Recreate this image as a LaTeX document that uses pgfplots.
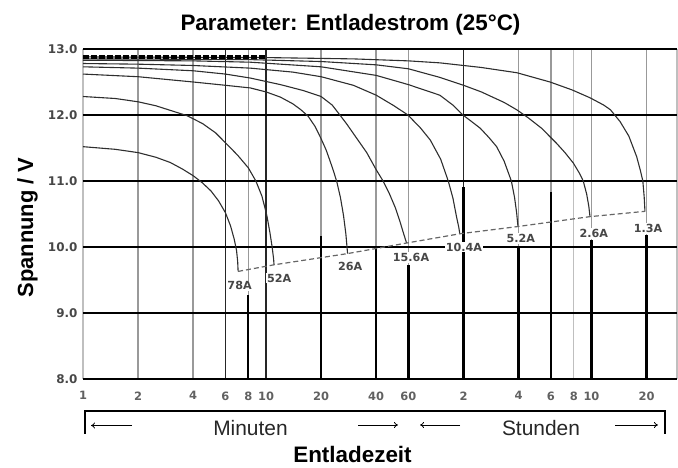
\documentclass[border=0pt]{standalone}
\usepackage{fontspec}
\setmainfont{Liberation Sans}
\newfontfamily\dvs{DejaVu Sans}
\usepackage{pgfplots}
\pgfplotsset{compat=1.18}
\usetikzlibrary{arrows.meta}

\begin{document}
\begin{tikzpicture}
\begin{axis}[name=ax, scale only axis, width=594bp, height=330bp,
  xmode=log, xmin=1, xmax=1760, ymin=8, ymax=13,
  axis line style={draw=none}, clip=false,
  xtick={1,2,4,6,8,10,20,40,60,120,240,360,480,600,1200},
  xticklabels={1,2,4,6,8,10,20,40,60,2,4,6,8,10,20},
  ytick={8,9,10,11,12,13},
  yticklabels={8.0,9.0,10.0,11.0,12.0,13.0},
  major tick length=0pt, minor tick length=0pt,
  xticklabel style={font=\dvs\bfseries\fontsize{11.5}{13}\selectfont, text=black!62, yshift=-9bp},
  yticklabel style={font=\dvs\bfseries\fontsize{12}{14}\selectfont, text=black!72, xshift=-2bp},
]
% grey vertical grid lines
\pgfplotsinvokeforeach{2,4,8,20,40,60,240,360,600,1200}{
  \addplot[gray!80, line width=1.5bp] coordinates {(#1,8) (#1,13)};
}
\pgfplotsinvokeforeach{1,480,1760}{
  \addplot[gray!50, line width=1.3bp] coordinates {(#1,8) (#1,13)};
}
\pgfplotsinvokeforeach{6,10,120}{
  \addplot[black!85, line width=1.1bp] coordinates {(#1,8) (#1,13)};
}
% thick black lower segments
\addplot[black, line width=2.4bp] coordinates {(8,8) (8,9.27)};
\addplot[black, line width=2.4bp] coordinates {(20,8) (20,10.16)};
\addplot[black, line width=2.4bp] coordinates {(40,8) (40,10.02)};
\addplot[black, line width=2.4bp] coordinates {(60,8) (60,9.73)};
\addplot[black, line width=2.4bp] coordinates {(120,8) (120,10.91)};
\addplot[black, line width=2.4bp] coordinates {(240,8) (240,10.0)};
\addplot[black, line width=2.4bp] coordinates {(360,8) (360,10.84)};
\addplot[black, line width=2.4bp] coordinates {(600,8) (600,10.1)};
\addplot[black, line width=2.4bp] coordinates {(1200,8) (1200,10.18)};
% horizontal grid lines
\pgfplotsinvokeforeach{8,9,10,11}{
  \addplot[black, line width=2.4bp] coordinates {(1,#1) (1760,#1)};
}
\addplot[black, line width=1.6bp] coordinates {(1,12) (1760,12)};
\addplot[black, line width=1.6bp] coordinates {(1,13) (1760,13)};

% discharge curves
\addplot[black!82, line width=1.1bp] coordinates {(1,11.52) (1.5,11.48) (2,11.43) (2.5,11.36) (3,11.28) (3.5,11.18) (4,11.08) (4.5,10.97) (5,10.85) (5.5,10.7) (6,10.52) (6.4,10.32) (6.7,10.12) (6.9,9.95) (7.0,9.78) (7.04,9.63)};
\addplot[black!82, line width=1.1bp] coordinates {(1,12.28) (1.5,12.25) (2,12.2) (2.5,12.14) (3,12.07) (3.7,11.99) (4.5,11.87) (5.3,11.73) (6.05,11.57) (7,11.39) (8,11.2) (8.8,11.0) (9.5,10.77) (10.1,10.48) (10.5,10.22) (10.8,10.0) (11.0,9.82) (11.06,9.73)};
\addplot[black!82, line width=1.1bp] coordinates {(1,12.62) (2,12.58) (4,12.5) (6,12.45) (8.2,12.41) (10,12.35) (12,12.27) (14,12.17) (15.5,12.08) (17,11.98) (18.5,11.83) (20,11.64) (21.3,11.47) (22.4,11.3) (23.5,11.13) (24.4,10.98) (25.5,10.75) (26.5,10.48) (27.3,10.2) (27.9,9.9)};
\addplot[black!82, line width=1.1bp] coordinates {(1,12.73) (2,12.71) (4,12.67) (6,12.62) (8.2,12.56) (12,12.46) (16,12.37) (20,12.28) (23,12.15) (25,12.02) (27.5,11.87) (30,11.72) (35.5,11.43) (40,11.17) (43.6,11.0) (47,10.82) (50.8,10.6) (54,10.38) (56.5,10.2) (58.6,10.06)};
\addplot[black!82, line width=1.1bp] coordinates {(1,12.78) (2,12.77) (4,12.75) (8.2,12.71) (14,12.65) (20,12.58) (30,12.45) (40,12.3) (50,12.14) (59.6,12.0) (70,11.8) (79,11.62) (90,11.33) (99,11.0) (105,10.74) (110,10.45) (113,10.3) (114.5,10.2)};
\addplot[black!82, line width=1.1bp] coordinates {(1,12.83) (4,12.82) (8.2,12.8) (20,12.73) (40,12.6) (60,12.46) (89,12.3) (105,12.15) (119,12.0) (130,11.92) (148,11.8) (165,11.66) (182,11.52) (200,11.3) (219,11.0) (228,10.75) (234,10.52) (238,10.31)};
\addplot[black!82, line width=1.1bp] coordinates {(1,12.85) (8,12.84) (20,12.81) (40,12.76) (60,12.7) (89,12.57) (120,12.45) (150,12.35) (200,12.19) (234,12.08) (270,11.96) (320,11.8) (387,11.57) (430,11.43) (478,11.27) (515,11.12) (541,11.0) (565,10.8) (580,10.62) (589,10.46)};
\addplot[black!82, line width=1.1bp] coordinates {(1,12.88) (10,12.87) (30,12.85) (60,12.82) (89,12.79) (150,12.72) (235,12.64) (356,12.5) (470,12.38) (590,12.26) (700,12.15) (761,12.08) (860,11.9) (960,11.68) (1059,11.37) (1110,11.16) (1145,11.0) (1165,10.75) (1176,10.54)};
% top thick dashed line
\addplot[black, line width=3.2bp, dash pattern=on 6bp off 2bp] coordinates {(1,12.88) (10.1,12.88)};
% end-voltage dashed line
\addplot[black!60, line width=1.2bp, dash pattern=on 5bp off 3bp] coordinates {(7.04,9.63) (11.06,9.73) (27.9,9.9) (58.6,10.06) (114.5,10.2) (238,10.31) (589,10.46) (1176,10.54)};

% curve labels
\begin{scope}[every node/.style={fill=white, inner sep=1.2bp, text=black!72, font=\dvs\bfseries\fontsize{11.2}{13}\selectfont}]
\node at (axis cs:7.17,9.41) {78A};
\node at (axis cs:11.8,9.53) {52A};
\node at (axis cs:28.8,9.705) {26A};
\node at (axis cs:62,9.84) {15.6A};
\node at (axis cs:120.6,10.0) {10.4A};
\node at (axis cs:247,10.13) {5.2A};
\node at (axis cs:618,10.2) {2.6A};
\node at (axis cs:1222,10.28) {1.3A};
\end{scope}
\end{axis}

\begin{scope}[shift={(ax.south west)}, x=1bp, y=1bp]
  \draw[line width=2bp] (2,-55) -- (2,-32) -- (582,-32) -- (582,-55);
  \draw[line width=0.8bp, -{To[length=4bp,width=6bp]}] (49,-46.5) -- (8,-46.5);
  \draw[line width=0.8bp, -{To[length=4bp,width=6bp]}] (275,-46) -- (315,-46);
  \draw[line width=0.8bp, -{To[length=4bp,width=6bp]}] (377,-46) -- (337,-46);
  \draw[line width=0.8bp, -{To[length=4bp,width=6bp]}] (532,-46) -- (575,-46);
  \node[anchor=base, font=\fontsize{21}{24}\selectfont, text=black!85] at (167.5,-56.5) {Minuten};
  \node[anchor=base, font=\fontsize{21}{24}\selectfont, text=black!85] at (458,-56.5) {Stunden};
  \node[anchor=base, font=\bfseries\fontsize{22.5}{26}\selectfont] at (269.5,-84) {Entladezeit};
  \node[anchor=base, font=\bfseries\fontsize{22.5}{26}\selectfont] at (267.5,348) {Parameter: Entladestrom (25°C)};
  \node[anchor=base, rotate=90, font=\bfseries\fontsize{22}{26}\selectfont] at (-50,151.5) {Spannung / V};
\end{scope}

\pgfresetboundingbox
\useasboundingbox ([xshift=-83bp,yshift=-89bp]ax.south west) rectangle ([xshift=1bp,yshift=49bp]ax.north east);
\end{tikzpicture}
\end{document}
